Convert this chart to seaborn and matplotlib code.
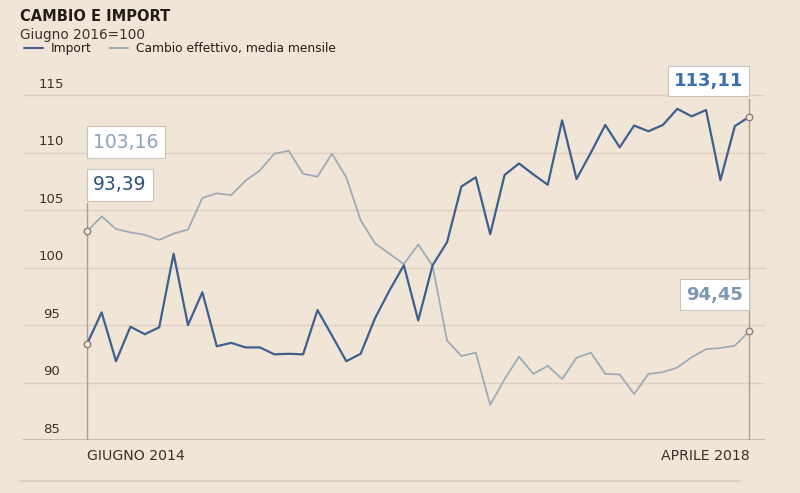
import pandas as pd
import seaborn as sns
import matplotlib.pyplot as plt
import numpy as np

# Monthly values, June 2014 -> April 2018 (Giugno 2016 = 100)
import_vals = [93.39, 96.1, 91.85, 94.85, 94.2, 94.8, 101.2, 95.0, 97.85, 93.15,
               93.45, 93.05, 93.05, 92.45, 92.5, 92.45, 96.3, 94.1, 91.85, 92.5,
               95.6, 98.0, 100.2, 95.4, 100.2, 102.2, 107.05, 107.85, 102.9, 108.05,
               109.05, 108.1, 107.2, 112.8, 107.7, 110.0, 112.4, 110.45, 112.35, 111.85,
               112.4, 113.8, 113.15, 113.7, 107.6, 112.3, 113.11]
cambio_vals = [103.16, 104.45, 103.35, 103.05, 102.85, 102.4, 102.95, 103.3, 106.05, 106.45,
               106.3, 107.55, 108.45, 109.9, 110.15, 108.15, 107.9, 109.9, 107.85, 104.1,
               102.1, 101.2, 100.3, 102.0, 100.15, 93.65, 92.3, 92.6, 88.05, 90.3,
               92.25, 90.75, 91.45, 90.3, 92.15, 92.6, 90.75, 90.7, 89.0, 90.75,
               90.9, 91.3, 92.2, 92.9, 93.0, 93.2, 94.45]
months = pd.period_range("2014-06", "2018-04", freq="M")
y_ticks = [85, 90, 95, 100, 105, 110, 115]

df = pd.DataFrame({"mese": np.arange(len(months)), "Import": import_vals,
                   "Cambio": cambio_vals})

bg = "#f1e5d7"
c_import = "#3f5f8c"
c_cambio = "#9eabb8"
txt = "#3b322c"

sns.set_theme(style="white")
plt.rcParams["font.family"] = ["DejaVu Sans"]

fig = plt.figure(figsize=(8, 4.93), dpi=100, facecolor=bg)
ax = fig.add_axes([0.029, 0.1075, 0.9275, 0.730])
ax.set_facecolor(bg)

sns.lineplot(x="mese", y="Cambio", data=df, color=c_cambio, linewidth=1.3, ax=ax)
sns.lineplot(x="mese", y="Import", data=df, color=c_import, linewidth=1.6, ax=ax)

last = len(df) - 1
ax.set_xlim(-4.45, last + 1.11)
ax.set_ylim(85, 116.3)

# gridlines + tick labels sitting above them
for t in y_ticks:
    if t == 85:
        ax.axhline(t, color="#bdb1a4", linewidth=1.2, zorder=1)
    else:
        ax.axhline(t, color="#ddd0c2", linewidth=1.0, zorder=0)
    ax.annotate(str(t), xy=(0.038, t), xycoords=("axes fraction", "data"),
                xytext=(0, 3), textcoords="offset points", ha="center", va="bottom",
                fontsize=9.5, color=txt)

# vertical reference lines at first and last month
ax.plot([0, 0], [85, 105.6], color="#a89e94", linewidth=1.0, zorder=1)
ax.plot([last, last], [85, 114.7], color="#a89e94", linewidth=1.0, zorder=1)

# endpoint markers
for s in ["Import", "Cambio"]:
    ax.scatter([0, last], [df[s].iloc[0], df[s].iloc[last]], s=22, facecolor=bg,
               edgecolor="#8a8279", linewidth=1.0, zorder=5)

box = dict(boxstyle="square,pad=0.34", facecolor="white", edgecolor="#c9c3bb", linewidth=0.8)
fmt = lambda v: f"{v:.2f}".replace(".", ",")
ax.text(0.42, 110.9, fmt(cambio_vals[0]), fontsize=13.5, color="#8ea2b8", ha="left",
        va="center", bbox=box)
ax.text(0.42, 107.2, fmt(import_vals[0]), fontsize=13.5, color="#2f4f7a", ha="left",
        va="center", bbox=box)
ax.text(last - 0.42, 116.2, fmt(import_vals[last]), fontsize=13, fontweight="bold",
        color="#3d6fae", ha="right", va="center", bbox=box)
ax.text(last - 0.42, 97.65, fmt(cambio_vals[last]), fontsize=13, fontweight="bold",
        color="#7f96b0", ha="right", va="center", bbox=box)

# x labels for first and last month
ax.text(0, 83.6, "GIUGNO 2014", fontsize=10.2, color=txt, ha="left", va="center")
ax.text(last, 83.6, "APRILE 2018", fontsize=10.2, color=txt, ha="right", va="center")

ax.set_xticks([])
ax.set_yticks([])
ax.set_xlabel("")
ax.set_ylabel("")
sns.despine(ax=ax, left=True, bottom=True)

# header
fig.text(0.025, 0.967, "CAMBIO E IMPORT", fontsize=10.5, fontweight="bold", color="#231c18",
         va="center")
fig.text(0.025, 0.930, "Giugno 2016=100", fontsize=9.8, color=txt, va="center")
fig.lines.append(plt.Line2D([0.030, 0.054], [0.902, 0.902], color=c_import, linewidth=1.5,
                            transform=fig.transFigure))
fig.text(0.063, 0.902, "Import", fontsize=8.8, color="#231c18", va="center")
fig.lines.append(plt.Line2D([0.137, 0.160], [0.902, 0.902], color=c_cambio, linewidth=1.5,
                            transform=fig.transFigure))
fig.text(0.170, 0.902, "Cambio effettivo, media mensile", fontsize=8.8, color="#231c18",
         va="center")

# bottom rule
fig.lines.append(plt.Line2D([0.025, 0.925], [0.025, 0.025], color="#d9ccbd", linewidth=1.2,
                            transform=fig.transFigure))

fig.savefig("out.png", dpi=100, facecolor=bg)
